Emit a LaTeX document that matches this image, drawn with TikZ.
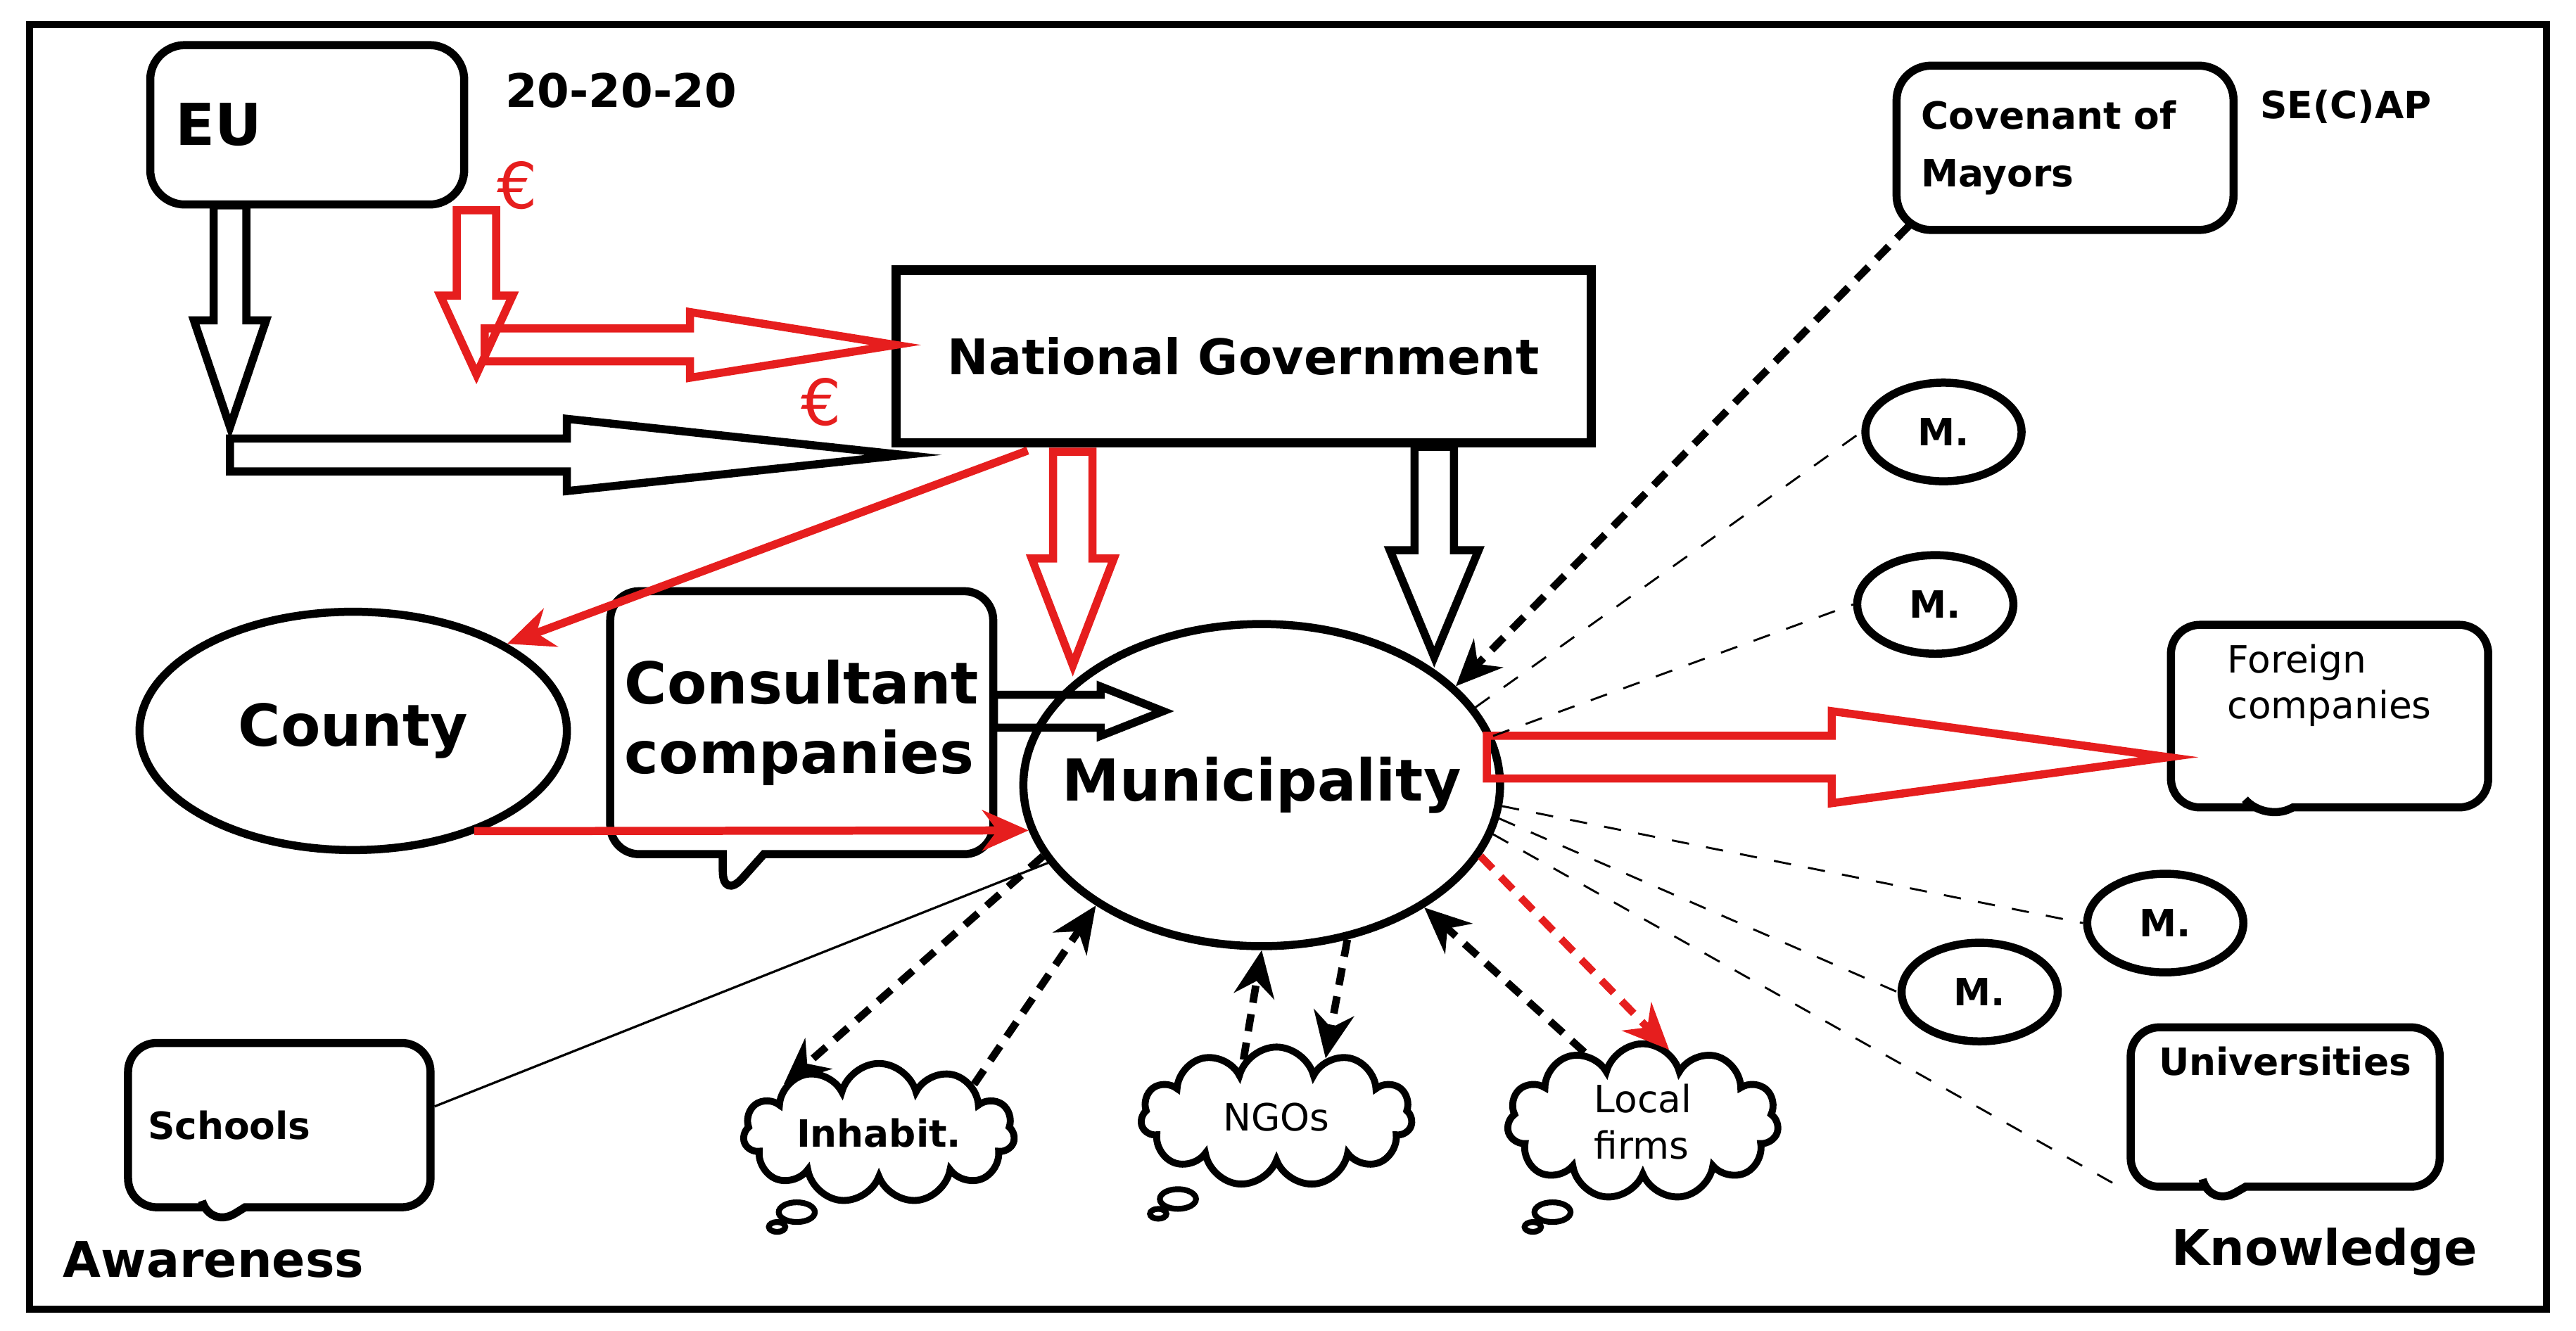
\documentclass[tikz,border=0pt]{standalone}
\usepackage{fontspec}
\setmainfont{DejaVu Sans}
\usetikzlibrary{arrows.meta,shapes.geometric,shapes.symbols,shapes.callouts}
\definecolor{cred}{RGB}{230,30,30}
\tikzset{>={Stealth[length=8pt,width=7pt]}}
\tikzset{
  rbox/.style={draw, line width=1.4pt, rounded corners=6pt, align=left},
  bubble/.style={rectangle callout, draw, line width=1.4pt, rounded corners=5pt, align=left, font=\fontsize{6.5}{8}\selectfont},
  oval/.style={ellipse, draw, line width=1.4pt, inner sep=0pt},
  mnode/.style={oval, minimum width=0.95cm, minimum height=0.6cm, font=\fontsize{6.5}{8}\bfseries\selectfont},
  thought/.style={cloud, cloud puffs=11, cloud ignores aspect, draw, line width=1.2pt, inner sep=0pt, minimum width=1.65cm, minimum height=0.85cm, align=left, font=\fontsize{6.5}{8}\selectfont},
  dasharr/.style={densely dashed, line width=1.3pt},
  thin dash/.style={dashed, line width=0.35pt}
}
% hollow block arrow: colour, start, angle, length, head start, shaft half width, head half width
\newcommand\blockarr[7]{%
  \begin{scope}[shift={#2}, rotate=#3]
    \draw[#1, line width=1.4pt, line join=miter] (0,-#6) -- (#5,-#6) -- (#5,-#7) -- (#4,0) -- (#5,#7) -- (#5,#6) -- (0,#6) -- cycle;
  \end{scope}}

\begin{document}
\begin{tikzpicture}[x=0.01cm, y=-0.01cm]
  \useasboundingbox (0,0) rectangle (1568,810);
  \draw[line width=1.2pt] (18,15) rectangle (1550,797);

  % top
  \node[rbox, minimum width=1.91cm, minimum height=0.97cm, text width=1.6cm, font=\fontsize{10}{12}\bfseries\selectfont] (eu) at (187,76) {EU};
  \node[font=\fontsize{8}{10}\bfseries\selectfont] (target) at (378,55) {20-20-20};
  \node[text=cred, font=\fontsize{11}{13}\selectfont] (euro1) at (315,113) {€};
  \node[text=cred, font=\fontsize{11}{13}\selectfont] (euro2) at (500,245) {€};
  \node[draw, line width=1.6pt, minimum width=4.23cm, minimum height=1.05cm, font=\fontsize{8.5}{10}\bfseries\selectfont] (ng) at (757,217) {National Government};
  \node[rbox, minimum width=2.05cm, minimum height=1cm, text width=1.75cm, font=\fontsize{6.5}{10}\bfseries\selectfont] (com) at (1257,90) {Covenant of Mayors};
  \node[font=\fontsize{6.5}{8}\bfseries\selectfont] (secap) at (1428,65) {SE(C)AP};

  % middle
  \node[oval, minimum width=2.6cm, minimum height=1.45cm, inner xsep=-0.3cm, font=\fontsize{10}{12}\bfseries\selectfont] (county) at (215,445) {County};
  \node[bubble, minimum width=2.33cm, minimum height=1.6cm, inner xsep=2pt, callout absolute pointer={(440,548)}, font=\fontsize{10}{12}\bfseries\selectfont] (cons) at (488,440) {Consultant\\companies};
  \node[oval, minimum width=2.9cm, minimum height=1.96cm, inner xsep=-0.5cm, fill=white, font=\fontsize{10}{12}\bfseries\selectfont] (muni) at (768,478) {Municipality};
  \node[bubble, minimum width=1.93cm, minimum height=1.07cm, callout absolute pointer={(1378,500)}] (foreign) at (1418,436) {Foreign\\companies\\[4pt]};
  \node[mnode] (m1) at (1183,263) {M.};
  \node[mnode] (m2) at (1178,368) {M.};
  \node[mnode] (m3) at (1318,562) {M.};
  \node[mnode] (m4) at (1205,604) {M.};

  % bottom
  \node[bubble, minimum width=1.84cm, minimum height=1cm, text width=1.6cm, callout absolute pointer={(128,748)}, font=\fontsize{6.5}{8}\bfseries\selectfont] (schools) at (170,685) {Schools\\[10pt]};
  \node[bubble, minimum width=1.88cm, minimum height=0.92cm, callout absolute pointer={(1345,735)}, font=\fontsize{6.5}{8}\bfseries\selectfont] (univ) at (1391,674) {Universities\\[8pt]};
  \node[thought, font=\fontsize{6.5}{8}\bfseries\selectfont] (inhab) at (535,690) {Inhabit.};
  \node[thought] (ngo) at (777,680) {NGOs};
  \node[thought, minimum height=0.95cm] (firms) at (1000,683) {Local\\firms};
  \foreach \cx/\cy in {485/738, 717/730, 945/738}
    \draw[line width=1pt] (\cx,\cy) ellipse (11 and 6) (\cx-12,\cy+9) ellipse (5 and 3);
  \node[font=\fontsize{8.5}{10}\bfseries\selectfont] (aware) at (130,767) {Awareness};
  \node[font=\fontsize{8.5}{10}\bfseries\selectfont] (know) at (1415,762) {Knowledge};

  % block arrows
  \blockarr{black}{(140,125)}{-90}{135}{70}{10}{22}
  \blockarr{black}{(140,277)}{0}{410}{205}{10}{22}
  \blockarr{black}{(873,272)}{-90}{128}{63}{12}{27}
  \blockarr{black}{(605,433)}{0}{103}{65}{10}{15}
  \blockarr{cred}{(290,128)}{-90}{100}{52}{12}{22}
  \blockarr{cred}{(295,210)}{0}{250}{125}{10}{20}
  \blockarr{cred}{(653,275)}{-90}{130}{65}{12}{25}
  \blockarr{cred}{(905,461)}{0}{415}{210}{13}{28}

  % connectors
  \draw[cred, line width=1.4pt, ->] (ng.south west) ++(83,2) -- (county.north east);
  \draw[cred, line width=1.4pt, ->] (county.south east) ++(-20,8) -- (muni.191);
  \draw[dasharr, ->] (com.south west) ++(10,-5) -- (muni.27);
  \draw[thin dash] (muni.20) -- (m1.west);
  \draw[thin dash] (muni.12) -- (m2.west);
  \draw[thin dash] (muni.-5) -- (m3.west);
  \draw[thin dash] (muni.-8) -- (m4.west);
  \draw[thin dash] (muni.-12) -- (univ.south west);
  \draw[line width=0.4pt] (schools.25) -- (muni.200);
  \draw[dasharr, ->] (muni.198) -- (inhab.north west);
  \draw[dasharr, ->] (inhab.north east) -- (muni.216);
  \draw[dasharr, ->] (ngo.120) -- (muni.270);
  \draw[dasharr, ->] (muni.299) -- (ngo.50);
  \draw[dasharr, ->] (firms.130) -- (muni.323);
  \draw[dasharr, cred, ->] (muni.342) -- (firms.70);
\end{tikzpicture}
\end{document}
